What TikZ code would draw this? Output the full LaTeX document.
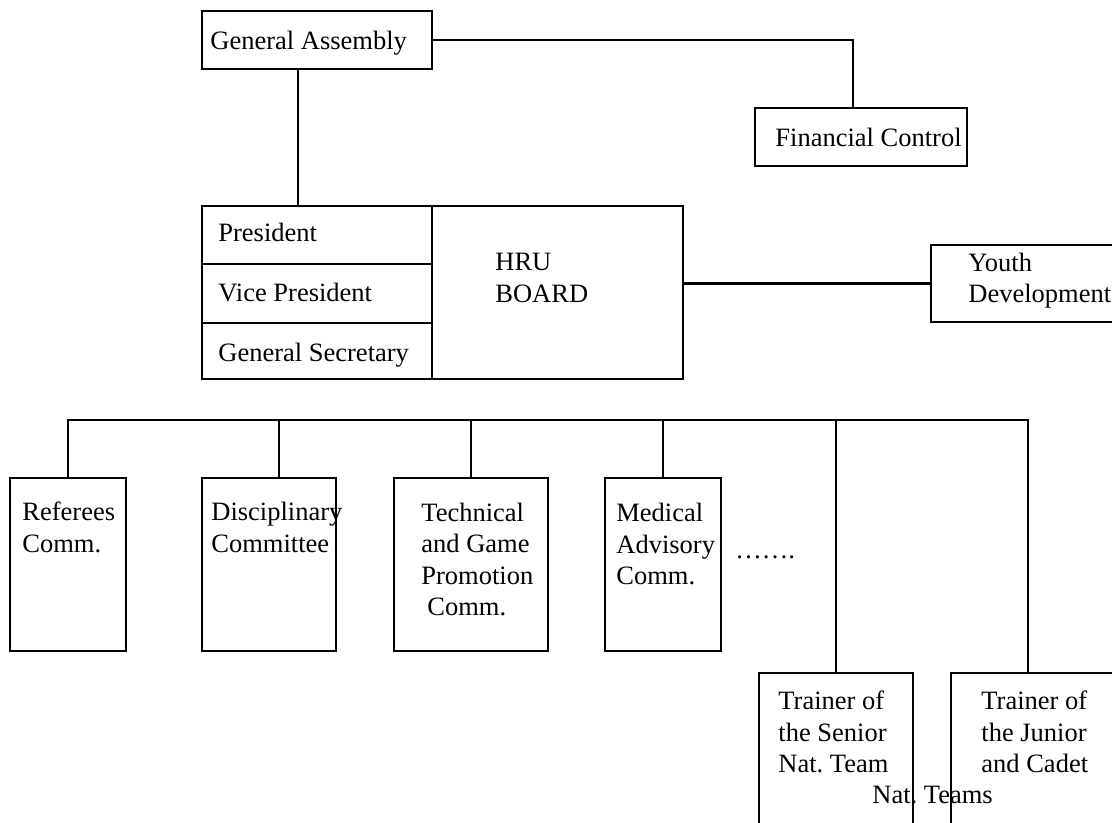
\documentclass[tikz,border=0pt]{standalone}
\usepackage{fontspec}
\setmainfont{Liberation Serif}
\frenchspacing
\tikzset{
  box/.style={draw, line width=1.15pt, inner sep=0pt},
  lbl/.style={anchor=west, inner sep=0pt, align=left, font=\fontsize{13.25}{15.75}\selectfont\frenchspacing},
  conn/.style={line width=1.15pt}
}
\begin{document}
\begin{tikzpicture}[x=0.5pt,y=-0.5pt]
\useasboundingbox (0,0) rectangle (1112,823);
\fill[white] (0,0) rectangle (1112,823);
\clip (0,0) rectangle (1112,823);
% boxes
\node[box, minimum width=115pt, minimum height=29pt] (ga) at (317,40) {};
\node[box, minimum width=106pt, minimum height=29pt] (fc) at (861,137) {};
\node[box, minimum width=115pt, minimum height=29pt] (pres) at (317,235) {};
\node[box, minimum width=115pt, minimum height=29.5pt] (vp) at (317,293.5) {};
\node[box, minimum width=115pt, minimum height=28pt] (gs) at (317,351) {};
\node[box, minimum width=125.5pt, minimum height=86.5pt] (hru) at (557.5,292.5) {};
\node[box, minimum width=109.5pt, minimum height=38.5pt] (youth) at (1040.5,283.5) {};
\node[box, minimum width=58pt, minimum height=86.5pt] (ref) at (68,564.5) {};
\node[box, minimum width=67pt, minimum height=86.5pt] (dis) at (269,564.5) {};
\node[box, minimum width=77pt, minimum height=86.5pt] (tec) at (471,564.5) {};
\node[box, minimum width=58pt, minimum height=86.5pt] (med) at (663,564.5) {};
\node[box, minimum width=77pt, minimum height=138.5pt] (sen) at (836,811.5) {};
\node[box, minimum width=104.5pt, minimum height=138.5pt] (jun) at (1055.5,811.5) {};
% labels
\node[lbl] (tga) at (210,43) {General Assembly};
\node[lbl] (tfc) at (775,137) {Financial Control};
\node[lbl] (tpres) at (218,232) {President};
\node[lbl] (tvp) at (218,293) {Vice President};
\node[lbl] (tgs) at (218,355) {General Secretary};
\node[lbl] (thru) at (495,278) {HRU\\BOARD};
\node[lbl] (tyouth) at (968,280.5) {Youth\\Development};
\node[lbl] (tref) at (22,527.5) {Referees\\Comm.};
\node[lbl] (tdis) at (211,527.5) {Disciplinary\\Committee};
\node[lbl] (ttec) at (421,559.5) {Technical\\and Game\\Promotion\\\hspace*{3pt}Comm.};
\node[lbl] (tmed) at (616,544) {Medical\\Advisory\\Comm.};
\node[lbl, anchor=base west] (tdots) at (735,558) {…….};
\node[lbl] (tsen) at (778,732) {Trainer of\\the Senior\\Nat. Team};
\node[lbl] (tjun) at (981,732) {Trainer of\\the Junior\\and Cadet};
\node[lbl] (tnat) at (872,795) {Nat. Teams};
% connectors
\draw[conn] (ga.east) -| ([xshift=-4pt]fc.north);
\draw[conn] ([xshift=-9.5pt]ga.south) -- ([xshift=-9.5pt]pres.north);
\draw[conn] (youth.west) -- (youth.west -| hru.east);
\coordinate (busL) at (68,420);
\coordinate (busR) at (1028,420);
\draw[conn] (ref.north) -- (busL) -- (busR) -- ([xshift=-13.75pt]jun.north);
\draw[conn] ([xshift=5pt]dis.north) -- ([xshift=5pt]dis.north |- busL);
\draw[conn] (tec.north) -- (tec.north |- busL);
\draw[conn] (med.north) -- (med.north |- busL);
\draw[conn] (sen.north) -- (sen.north |- busL);
\end{tikzpicture}
\end{document}
